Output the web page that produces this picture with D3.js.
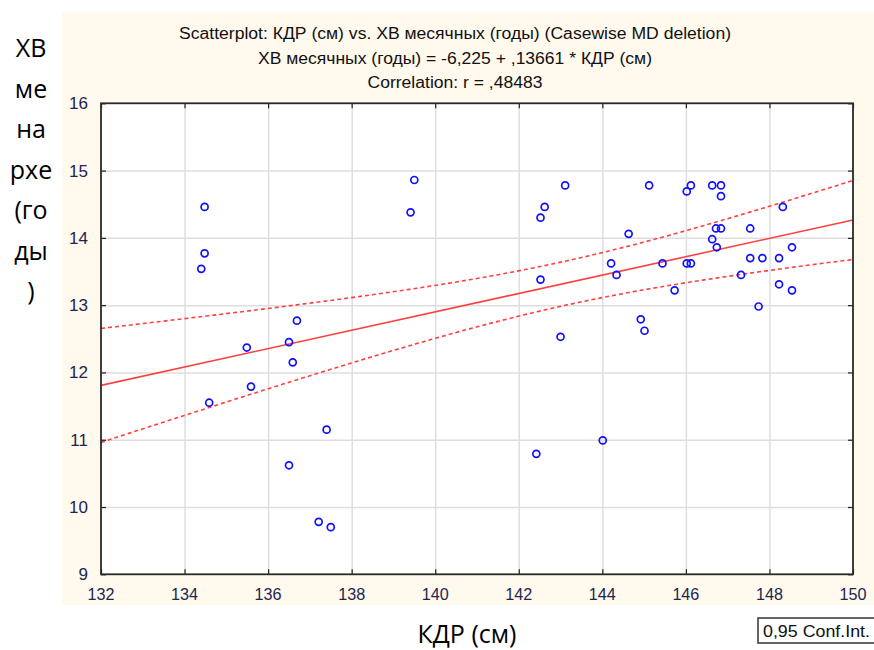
<!DOCTYPE html>
<html>
<head>
<meta charset="utf-8">
<script src="https://cdn.jsdelivr.net/npm/d3@7"></script>
<style>
  body { margin: 0; background: #fff; }
  svg { display: block; }
</style>
</head>
<body>
<div id="chart"></div>
<script>
// data: КДР (см) vs ХВ менархе (годы)
const kdr = [134.48, 134.48, 134.40, 134.59, 135.49, 135.59, 136.50, 136.69, 136.59, 136.50,
    137.40, 137.21, 137.50, 139.41, 139.50, 142.42, 142.52, 142.62, 142.52, 143.11,
    143.00, 144.01, 144.21, 144.34, 144.63, 144.92, 145.01, 145.12, 145.44, 145.73,
    146.02, 146.12, 146.02, 146.12, 146.63, 146.84, 146.84, 146.72, 146.84, 146.63,
    146.74, 147.32, 147.54, 147.54, 147.83, 147.74, 148.23, 148.23, 148.32, 148.54, 148.54];
const xbYears = [14.46, 13.77, 13.54, 11.55, 12.37, 11.79, 12.45, 12.77, 12.15, 10.62,
    11.15, 9.78, 9.70, 14.38, 14.86, 10.79, 14.30, 14.46, 13.38, 14.78,
    12.53, 10.99, 13.62, 13.45, 14.06, 12.79, 12.62, 14.78, 13.62, 13.22,
    14.69, 14.78, 13.62, 13.62, 14.78, 14.78, 14.62, 14.14, 14.14, 13.98,
    13.86, 13.45, 14.14, 13.70, 13.70, 12.98, 13.70, 13.31, 14.46, 13.86, 13.22];

const xTicks = [132, 134, 136, 138, 140, 142, 144, 146, 148, 150];
const yTicks = [9, 10, 11, 12, 13, 14, 15, 16];

// regression stated in the title
const intercept = -6.225;
const slope = 0.13661;
const tCrit = 2.0096; // t(0.975, df = 49)

const titleLines = [
    'Scatterplot: КДР (см) vs. ХВ месячных (годы) (Casewise MD deletion)',
    'ХВ месячных (годы) = -6,225 + ,13661 * КДР (см)',
    'Correlation: r = ,48483'
];
const yLabelLines = ['ХВ', 'ме', 'на', 'рхе', '(го', 'ды', ')'];
const xLabel = 'КДР (см)';
const legendText = '0,95 Conf.Int.';

// layout
const width = 874;
const height = 650;
const plotL = 101, plotR = 853, plotT = 103.3, plotB = 574.3;
const labelColor = '#1c2650';
const narrow = '"Liberation Sans", Arial, sans-serif';

const svg = d3.select('#chart').append('svg')
    .attr('width', width)
    .attr('height', height);

// cream panel
svg.append('rect')
    .attr('x', 62).attr('y', 12)
    .attr('width', width - 62).attr('height', 593)
    .attr('fill', '#fff9ee');

const x = d3.scaleLinear().domain([132, 150]).range([plotL, plotR]);
const y = d3.scaleLinear().domain([9, 16]).range([plotB, plotT]);

svg.append('rect')
    .attr('x', plotL).attr('y', plotT)
    .attr('width', plotR - plotL).attr('height', plotB - plotT)
    .attr('fill', '#fff');

// grid
svg.append('g')
    .attr('transform', `translate(0,${plotB})`)
    .call(d3.axisBottom(x).tickValues(xTicks.slice(1, -1)).tickSize(-(plotB - plotT)).tickFormat(''))
    .call(g => g.select('.domain').remove())
    .call(g => g.selectAll('line').attr('stroke', '#dedede').attr('stroke-width', 1.5));
svg.append('g')
    .attr('transform', `translate(${plotL},0)`)
    .call(d3.axisLeft(y).tickValues(yTicks.slice(1, -1)).tickSize(-(plotR - plotL)).tickFormat(''))
    .call(g => g.select('.domain').remove())
    .call(g => g.selectAll('line').attr('stroke', '#dedede').attr('stroke-width', 1.5));

// confidence band computed from the data around the stated line
const n = kdr.length;
const meanX = d3.mean(kdr);
const sxx = d3.sum(kdr, v => (v - meanX) ** 2);
const sse = d3.sum(kdr, (v, i) => (xbYears[i] - (intercept + slope * v)) ** 2);
const s = Math.sqrt(sse / (n - 2));
const xs = d3.range(0, 101).map(i => 132 + i * 0.18);
const fit = v => intercept + slope * v;
const half = v => tCrit * s * Math.sqrt(1 / n + (v - meanX) ** 2 / sxx);

const line = d3.line().x(d => x(d[0])).y(d => y(d[1]));
const lines = svg.append('g');
lines.append('path')
    .attr('d', line(xs.map(v => [v, fit(v) + half(v)])))
    .attr('fill', 'none').attr('stroke', '#ff4040').attr('stroke-width', 1.6)
    .attr('stroke-dasharray', '4,3');
lines.append('path')
    .attr('d', line(xs.map(v => [v, fit(v) - half(v)])))
    .attr('fill', 'none').attr('stroke', '#ff4040').attr('stroke-width', 1.6)
    .attr('stroke-dasharray', '4,3');
lines.append('path')
    .attr('d', line([[132, fit(132)], [150, fit(150)]]))
    .attr('fill', 'none').attr('stroke', '#ff4040').attr('stroke-width', 1.6);

// points
svg.append('g')
    .selectAll('circle')
    .data(kdr)
    .join('circle')
    .attr('cx', d => x(d))
    .attr('cy', (d, i) => y(xbYears[i]))
    .attr('r', 3.5)
    .attr('fill', 'none')
    .attr('stroke', '#1010ff')
    .attr('stroke-width', 1.7);

// frame with inward ticks on all sides
const tick = 5;
const axisStyle = g => {
    g.select('.domain').remove();
    g.selectAll('line').attr('stroke', '#222').attr('stroke-width', 1.2);
};
svg.append('g').attr('transform', `translate(0,${plotB})`)
    .call(d3.axisBottom(x).tickValues(xTicks).tickSize(-tick).tickFormat('')).call(axisStyle);
svg.append('g').attr('transform', `translate(0,${plotT})`)
    .call(d3.axisTop(x).tickValues(xTicks).tickSize(-tick).tickFormat('')).call(axisStyle);
svg.append('g').attr('transform', `translate(${plotL},0)`)
    .call(d3.axisLeft(y).tickValues(yTicks).tickSize(-tick).tickFormat('')).call(axisStyle);
svg.append('g').attr('transform', `translate(${plotR},0)`)
    .call(d3.axisRight(y).tickValues(yTicks).tickSize(-tick).tickFormat('')).call(axisStyle);

svg.append('rect')
    .attr('x', plotL).attr('y', plotT)
    .attr('width', plotR - plotL).attr('height', plotB - plotT)
    .attr('fill', 'none').attr('stroke', '#2a2a2a').attr('stroke-width', 1.8);

// tick labels
svg.append('g').selectAll('text')
    .data(xTicks)
    .join('text')
    .attr('x', d => x(d))
    .attr('y', 600)
    .attr('text-anchor', 'middle')
    .attr('font-family', narrow)
    .attr('font-size', 17)
    .attr('fill', labelColor)
    .attr('textLength', 27)
    .attr('lengthAdjust', 'spacingAndGlyphs')
    .text(d => d);
svg.append('g').selectAll('text')
    .data(yTicks)
    .join('text')
    .attr('x', 88)
    .attr('y', d => y(d) + 6)
    .attr('text-anchor', 'end')
    .attr('font-family', narrow)
    .attr('font-size', 17)
    .attr('fill', labelColor)
    .text(d => d);

// title
const titleWidths = [552, 394, 175];
svg.append('g').selectAll('text')
    .data(titleLines)
    .join('text')
    .attr('x', 455)
    .attr('y', (d, i) => 39 + i * 24.5)
    .attr('text-anchor', 'middle')
    .attr('font-family', narrow)
    .attr('font-size', 16)
    .attr('fill', '#111')
    .attr('textLength', (d, i) => titleWidths[i])
    .attr('lengthAdjust', 'spacingAndGlyphs')
    .text(d => d);

// y axis label (wrapped)
svg.append('g').selectAll('text')
    .data(yLabelLines)
    .join('text')
    .attr('x', 31)
    .attr('y', (d, i) => 57 + i * 40.5)
    .attr('text-anchor', 'middle')
    .attr('font-family', '"Open Sans", sans-serif')
    .attr('font-size', 25)
    .attr('fill', '#000')
    .text(d => d);

// x axis label
svg.append('text')
    .attr('x', 467)
    .attr('y', 643)
    .attr('text-anchor', 'middle')
    .attr('font-family', '"Open Sans", sans-serif')
    .attr('font-size', 25)
    .attr('fill', '#000')
    .text(xLabel);

// legend box
svg.append('rect')
    .attr('x', 758).attr('y', 618)
    .attr('width', 118).attr('height', 25)
    .attr('fill', '#fff').attr('stroke', '#333').attr('stroke-width', 1.5);
svg.append('text')
    .attr('x', 763)
    .attr('y', 637)
    .attr('font-family', narrow)
    .attr('font-size', 16.5)
    .attr('fill', '#111')
    .attr('textLength', 107)
    .attr('lengthAdjust', 'spacingAndGlyphs')
    .text(legendText);
</script>
</body>
</html>
